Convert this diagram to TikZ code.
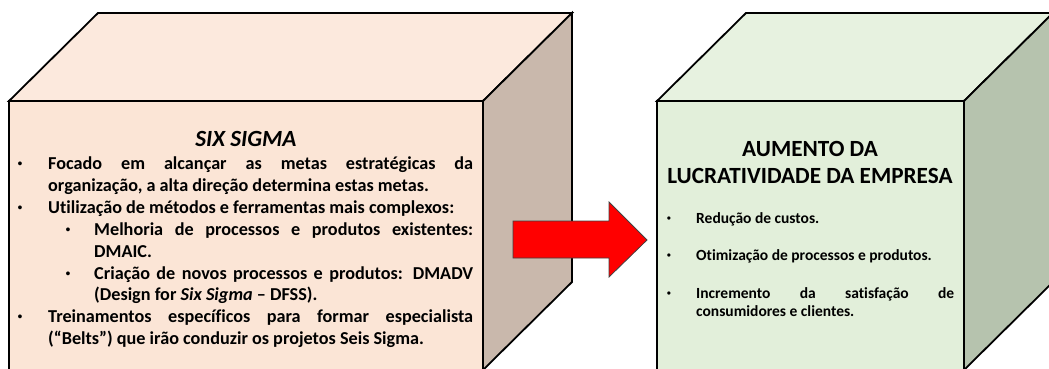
\documentclass[tikz,border=0pt]{standalone}
\usepackage{fontspec}
\setmainfont{Carlito}[Ligatures=CommonOff]
\newfontfamily\bulfont{Liberation Sans}
\definecolor{peachfront}{HTML}{FBE5D6}
\definecolor{peachtop}{HTML}{FCE9DD}
\definecolor{peachside}{HTML}{C9B8AC}
\definecolor{greenfront}{HTML}{E2EFDA}
\definecolor{greentop}{HTML}{E7F2E0}
\definecolor{greenside}{HTML}{B6C3AE}
\definecolor{arrowred}{HTML}{FF0000}
\newcommand\jline[2]{\makebox[#1][s]{#2}}
\begin{document}
\begin{tikzpicture}[x=1pt,y=-1pt,
  face/.style={draw=black,line width=1.8pt,line join=miter},
  body/.style={anchor=base west,inner sep=0pt,font=\fontsize{18.2}{22}\selectfont\bfseries},
  bul/.style={anchor=base,inner sep=0pt,font=\fontsize{14}{16}\bulfont},
  ttl/.style={anchor=base,inner sep=0pt,font=\fontsize{23.2}{27}\selectfont\bfseries},
  rbody/.style={anchor=base west,inner sep=0pt,font=\fontsize{15.5}{18}\selectfont\bfseries},
  rbul/.style={anchor=base,inner sep=0pt,font=\fontsize{12}{14}\bulfont}]
\useasboundingbox (0,0) rectangle (1049,369);
% left cube
\coordinate (A1) at (9,101);  \coordinate (A2) at (483,101);
\coordinate (A3) at (483,370); \coordinate (A4) at (9,370);
\coordinate (A5) at (98,13);  \coordinate (A6) at (572,13);
\coordinate (A7) at (572,282);
\fill[peachfront] (A1) -- (A2) -- (A3) -- (A4) -- cycle;
\draw[face,fill=peachfront] (A4) -- (A1) -- (A2) -- (A3);
\draw[face,fill=peachtop] (A1) -- (A5) -- (A6) -- (A2) -- cycle;
\draw[face,fill=peachside] (A2) -- (A6) -- (A7) -- (A3) -- cycle;
% right cube
\coordinate (B1) at (657,101);  \coordinate (B2) at (964,101);
\coordinate (B3) at (964,370); \coordinate (B4) at (657,370);
\coordinate (B5) at (746,13);  \coordinate (B6) at (1053,13);
\coordinate (B7) at (1053,282);
\draw[face,fill=greenfront] (B4) -- (B1) -- (B2) -- (B3);
\draw[face,fill=greentop] (B1) -- (B5) -- (B6) -- (B2) -- cycle;
\draw[face,fill=greenside] (B2) -- (B6) -- (B7) -- (B3) -- cycle;
% arrow
\draw[fill=arrowred,draw=black!75,line width=0.8pt,line join=miter]
  (513,221) -- (609,221) -- (609,202) -- (647,240) -- (609,277) -- (609,258) -- (513,258) -- cycle;
% left texts
\node[ttl] (lt) at (246,146) {\itshape SIX SIGMA};
\node[bul] (lb1) at (20,168) {•};
\node[body] (l1) at (48,169) {\jline{425pt}{Focado em alcançar as metas estratégicas da}};
\node[body] (l2) at (48,191) {organização, a alta direção determina estas metas.};
\node[bul] (lb2) at (20,212) {•};
\node[body] (l3) at (48,213) {Utilização de métodos e ferramentas mais complexos:};
\node[bul] (lb3) at (68,234) {•};
\node[body] (l4) at (94,235) {\jline{379pt}{Melhoria de processos e produtos existentes:}};
\node[body] (l5) at (94,257) {DMAIC.};
\node[bul] (lb4) at (68,278) {•};
\node[body] (l6) at (94,279) {\jline{379pt}{Criação de novos processos e produtos: DMADV}};
\node[body] (l7) at (94,300) {(Design for \textit{Six Sigma} – DFSS).};
\node[bul] (lb5) at (20,321) {•};
\node[body] (l8) at (48,322) {\jline{425pt}{Treinamentos específicos para formar especialista}};
\node[body] (l9) at (48,344) {(“Belts”) que irão conduzir os projetos Seis Sigma.};
% right texts
\node[ttl] (rt1) at (810,156) {AUMENTO DA};
\node[ttl] (rt2) at (810,183) {LUCRATIVIDADE DA EMPRESA};
\node[rbul] (rb1) at (669,222) {•};
\node[rbody] (r1) at (696,223) {Redução de custos.};
\node[rbul] (rb2) at (669,259) {•};
\node[rbody] (r2) at (696,260) {Otimização de processos e produtos.};
\node[rbul] (rb3) at (669,297) {•};
\node[rbody] (r3) at (696,298) {\jline{258pt}{Incremento da satisfação de}};
\node[rbody] (r4) at (696,316) {consumidores e clientes.};
\end{tikzpicture}
\end{document}
